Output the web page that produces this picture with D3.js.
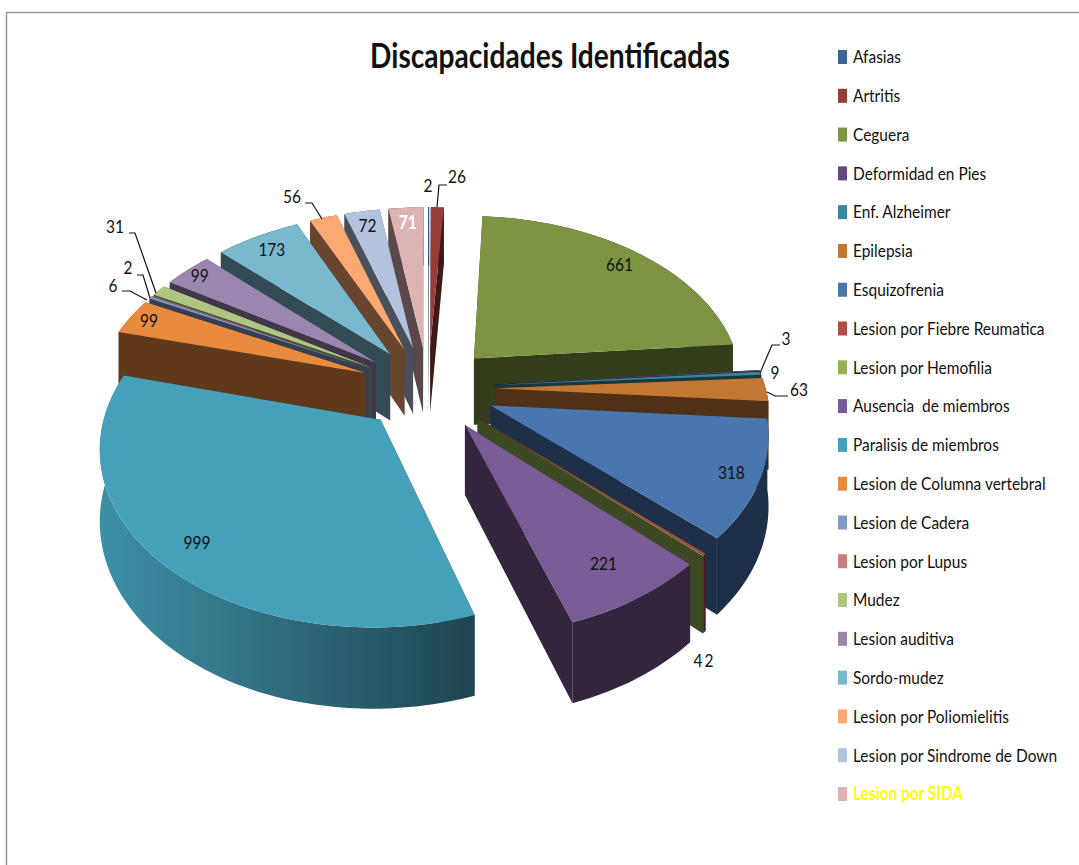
<!DOCTYPE html>
<html>
<head>
<meta charset="utf-8">
<script src="https://cdnjs.cloudflare.com/ajax/libs/d3/7.8.5/d3.min.js"></script>
<style>
    html, body { margin: 0; padding: 0; background: #fff; }
    text { font-family: Lato, "Liberation Sans", sans-serif; fill: #111; }
</style>
</head>
<body>
<div id="js_chart"></div>
<script>
const chartTitle = "Discapacidades Identificadas";
const categories = ["Afasias", "Artritis", "Ceguera", "Deformidad en Pies", "Enf. Alzheimer", "Epilepsia",
    "Esquizofrenia", "Lesion por Fiebre Reumatica", "Lesion por Hemofilia", "Ausencia  de miembros",
    "Paralisis de miembros", "Lesion de Columna vertebral", "Lesion de Cadera", "Lesion por Lupus", "Mudez",
    "Lesion auditiva", "Sordo-mudez", "Lesion por Poliomielitis", "Lesion por Sindrome de Down", "Lesion por SIDA"];
const values = [2, 26, 661, 3, 9, 63, 318, 4, 2, 221, 999, 99, 6, 2, 31, 99, 173, 56, 72, 71];
const palette = ["#3c6496", "#963c3b", "#7d9442", "#65497f", "#37889c", "#c27733", "#4a76b0", "#b54a49", "#96b155", "#795b96",
    "#45a0b9", "#e98b3f", "#8099c5", "#ca7e7d", "#afc682", "#9b86b0", "#7ab8cd", "#fba872", "#b4c3dd", "#ddb3b3"];

// labels that sit outside the pie: text position and leader line, in page pixels
const outsideLabels = {
    "Afasias": {text: [428, 186]},
    "Artritis": {text: [457, 177], line: [[437, 207], [439, 185], [447, 185]]},
    "Deformidad en Pies": {text: [786, 339], line: [[760, 373], [772, 345], [780, 345]]},
    "Enf. Alzheimer": {text: [775, 373]},
    "Epilepsia": {text: [799, 390], line: [[767, 392], [775, 396], [788, 396]]},
    "Lesion por Fiebre Reumatica": {text: [698, 661]},
    "Lesion por Hemofilia": {text: [709, 661]},
    "Lesion de Cadera": {text: [113, 286], line: [[147, 300], [130, 291], [122, 291]]},
    "Lesion por Lupus": {text: [128, 268], line: [[150, 298], [143, 275], [137, 275]]},
    "Mudez": {text: [115, 227], line: [[156, 293], [135, 233], [129, 233]]},
    "Lesion por Poliomielitis": {text: [292, 197], line: [[322, 219], [312, 203], [305, 203]]}
};
// inside labels that do not sit at the usual distance along the slice
const labelRadius = {
    "Paralisis de miembros": 0.86, "Lesion de Columna vertebral": 0.92, "Lesion auditiva": 0.93,
    "Ausencia  de miembros": 0.82, "Esquizofrenia": 0.9
};

function renderChart() {

    // ******************************************************
    // Settings
    // ******************************************************
    const width = 1079, height = 865;
    const cx = 428, cy = 388;
    const radiusX = 270, radiusY = 169.5, depth = 68;
    const perspective = 0.138, explode = 0.25;
    const narrow = 0.86;

    const svg = d3.select("#js_chart").append("svg")
        .attr("width", width)
        .attr("height", height);
    const defs = svg.append("defs");

    const color = d3.scaleOrdinal().domain(categories).range(palette);
    const legendY = d3.scaleLinear().domain([0, categories.length - 1]).range([57, 794]);

    function shade(c, k) {
        const r = d3.rgb(c);
        return d3.rgb(r.r * k, r.g * k, r.b * k).formatHex();
    }

    // Calibri look: squeeze a text sideways around its own x
    function squeeze(selection, k) {
        selection.attr("transform", function () {
            const x = +this.getAttribute("x") || 0;
            return "translate(" + x + ",0) scale(" + k + ",1) translate(" + (-x) + ",0)";
        });
    }

    // plane coordinates in pie radii -> screen, h is how far down the side wall
    function project(X, Y, h) {
        const w = 1 - perspective * Y;
        return [cx + radiusX * X / w, cy + (radiusY * Y + h) / w];
    }

    const pie = d3.pie().sort(null).value(function (d) { return d.value; });
    const slices = pie(categories.map(function (c, i) { return {name: c, value: values[i]}; }));

    slices.forEach(function (s) {
        s.mid = (s.startAngle + s.endAngle) / 2;
        s.apex = [explode * Math.sin(s.mid), -explode * Math.cos(s.mid)];
        s.at = function (angle, r) {
            return [s.apex[0] + r * Math.sin(angle), s.apex[1] - r * Math.cos(angle)];
        };
    });

    const line = d3.line();
    function rimPoints(s) {
        const n = Math.max(2, Math.ceil((s.endAngle - s.startAngle) / 0.02));
        return d3.range(n + 1).map(function (i) {
            return s.at(s.startAngle + (s.endAngle - s.startAngle) * i / n, 1);
        });
    }
    function radialWall(s, angle) {
        const p = s.at(angle, 1);
        return line([project(s.apex[0], s.apex[1], 0), project(p[0], p[1], 0),
            project(p[0], p[1], depth), project(s.apex[0], s.apex[1], depth)]) + "Z";
    }

    // ******************************************************
    // Border
    // ******************************************************
    svg.append("path")
        .attr("d", line([[6.5, height], [6.5, 12.5], [width, 12.5]]))
        .attr("fill", "none")
        .attr("stroke", "#999")
        .attr("stroke-width", 1.5);

    // ******************************************************
    // Pie, far slices first
    // ******************************************************
    const biggest = d3.max(values);
    const ordered = slices.slice().sort(function (a, b) { return d3.ascending(a.apex[1], b.apex[1]); });

    const g = svg.append("g").selectAll("g")
        .data(ordered)
        .enter().append("g");

    g.each(function (s) {
        const sel = d3.select(this);
        const base = color(s.data.name);
        const wall = shade(base, 0.41);
        const rim = rimPoints(s);

        sel.append("path").attr("d", radialWall(s, s.startAngle)).attr("fill", wall);
        sel.append("path").attr("d", radialWall(s, s.endAngle)).attr("fill", wall);

        let rimFill = wall;
        if (s.value === biggest) {
            const id = "rimGrad";
            const grad = defs.append("linearGradient").attr("id", id)
                .attr("gradientUnits", "userSpaceOnUse")
                .attr("x1", 100).attr("x2", 473).attr("y1", 0).attr("y2", 0);
            grad.append("stop").attr("offset", 0).attr("stop-color", shade(base, 0.9));
            grad.append("stop").attr("offset", 1).attr("stop-color", shade(base, 0.43));
            rimFill = "url(#" + id + ")";
        }
        const rimOutline = rim.map(function (p) { return project(p[0], p[1], 0); })
            .concat(rim.slice().reverse().map(function (p) { return project(p[0], p[1], depth); }));
        sel.append("path").attr("d", line(rimOutline) + "Z").attr("fill", rimFill);

        const top = [project(s.apex[0], s.apex[1], 0)]
            .concat(rim.map(function (p) { return project(p[0], p[1], 0); }));
        sel.append("path").attr("d", line(top) + "Z").attr("fill", base);
    });

    // ******************************************************
    // Data labels
    // ******************************************************
    const labels = svg.append("g").attr("font-size", 18);

    slices.forEach(function (s) {
        const out = outsideLabels[s.data.name];
        let pos;
        if (out) {
            pos = out.text;
            if (out.line) {
                labels.append("path")
                    .attr("d", line(out.line))
                    .attr("fill", "none")
                    .attr("stroke", "#111")
                    .attr("stroke-width", 1.2);
            }
        } else {
            const p = s.at(s.mid, labelRadius[s.data.name] || 0.88);
            pos = project(p[0], p[1], 0);
        }
        const isSida = s.data.name === "Lesion por SIDA";
        labels.append("text")
            .attr("x", pos[0])
            .attr("y", pos[1])
            .attr("text-anchor", "middle")
            .attr("dy", "0.35em")
            .style("fill", isSida ? "#fff" : null)
            .attr("font-weight", isSida ? "bold" : null)
            .text(s.value)
            .call(squeeze, narrow);
    });

    // ******************************************************
    // Title and legend
    // ******************************************************
    const title = svg.append("text")
        .attr("x", 550)
        .attr("y", 68)
        .attr("text-anchor", "middle")
        .attr("font-size", 34)
        .attr("font-weight", "bold")
        .text(chartTitle);
    title.call(squeeze, 360 / title.node().getComputedTextLength());

    const legend = svg.append("g").selectAll("g")
        .data(categories)
        .enter().append("g")
        .attr("transform", function (d, i) { return "translate(838," + legendY(i) + ")"; });

    legend.append("rect")
        .attr("y", -7)
        .attr("width", 9)
        .attr("height", 14)
        .attr("fill", function (d) { return color(d); });

    legend.append("text")
        .attr("x", 15)
        .attr("dy", "0.35em")
        .attr("font-size", 18)
        .style("white-space", "pre")
        .style("fill", function (d) { return d === "Lesion por SIDA" ? "#ffff00" : null; })
        .attr("font-weight", function (d) { return d === "Lesion por SIDA" ? "bold" : null; })
        .text(function (d) { return d; })
        .call(squeeze, narrow);
}

renderChart();
</script>
</body>
</html>
